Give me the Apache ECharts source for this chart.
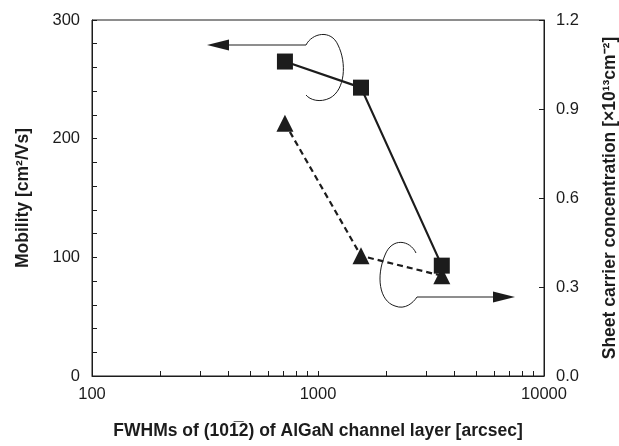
<!DOCTYPE html>
<html>
<head>
<meta charset="utf-8">
<script src="https://cdn.jsdelivr.net/npm/echarts@6/dist/echarts.min.js"></script>
<style>
html,body{margin:0;padding:0;background:#fff;}
#c{width:619px;height:446px;}
</style>
</head>
<body>
<div id="c"></div>
<script>
// Data
var fwhm = [714, 1550, 3530];
var mobility = [265, 243, 93];
var sheetConc = [0.852, 0.405, 0.338];
var xTickValues = [100,200,300,400,500,600,700,800,900,1000,2000,3000,4000,5000,6000,7000,8000,9000,10000];
var xLabelValues = [100, 1000, 10000];

var ink = '#1c1c1c';
var font = 'Liberation Sans, Arial, Helvetica, sans-serif';
var tickFs = 16.5, titleFs = 17.5;

var chart = echarts.init(document.getElementById('c'), null, {renderer: 'canvas'});

function pairs(xs, ys) { return xs.map(function (x, i) { return [x, ys[i]]; }); }
function bez(a, c1, c2, b) {
  return {type: 'bezierCurve', shape: {x1: a[0], y1: a[1], cpx1: c1[0], cpy1: c1[1], cpx2: c2[0], cpy2: c2[1], x2: b[0], y2: b[1]},
    style: {stroke: ink, lineWidth: 1, fill: null}};
}

var option = {
  backgroundColor: '#fff',
  animation: false,
  textStyle: {fontFamily: font},
  grid: {left: 92, right: 75, top: 20, bottom: 70, show: true, borderColor: ink, borderWidth: 1,
    backgroundColor: 'transparent', containLabel: false, outerBoundsMode: 'none'},
  xAxis: {
    type: 'log', logBase: 10, min: 100, max: 10000,
    name: 'FWHMs of (101\u03052) of AlGaN channel layer [arcsec]',
    nameLocation: 'middle', nameGap: 46,
    nameTextStyle: {fontSize: titleFs, fontWeight: 'bold', color: ink, fontFamily: font},
    axisLine: {lineStyle: {color: ink, width: 1}},
    axisTick: {inside: true, length: 5, lineStyle: {color: ink}, customValues: xTickValues},
    axisLabel: {fontSize: tickFs, color: ink, margin: 10, customValues: xLabelValues, fontFamily: font,
      formatter: function (v) { return String(Math.round(v)); }},
    splitLine: {show: false}, minorTick: {show: false}
  },
  yAxis: [{
    type: 'value', min: 0, max: 300, interval: 100, position: 'left',
    name: 'Mobility [cm\u00B2/Vs]', nameLocation: 'middle', nameGap: 60, nameRotate: 90,
    nameTextStyle: {fontSize: titleFs, fontWeight: 'bold', color: ink, fontFamily: font},
    axisLine: {show: true, lineStyle: {color: ink, width: 1}},
    axisTick: {show: true, inside: true, length: 5, lineStyle: {color: ink}},
    minorTick: {show: true, splitNumber: 5, length: 5, lineStyle: {color: ink}},
    axisLabel: {fontSize: tickFs, color: ink, margin: 12, fontFamily: font},
    splitLine: {show: false}
  }, {
    type: 'value', min: 0, max: 1.2, interval: 0.3, position: 'right',
    name: 'Sheet carrier concentration [\u00D710\u00B9\u00B3cm\u207B\u00B2]', nameLocation: 'middle', nameGap: 57, nameRotate: 90,
    nameTextStyle: {fontSize: titleFs, fontWeight: 'bold', color: ink, fontFamily: font},
    axisLine: {show: true, lineStyle: {color: ink, width: 1}},
    axisTick: {show: true, inside: true, length: 5, lineStyle: {color: ink}},
    axisLabel: {fontSize: tickFs, color: ink, margin: 12, fontFamily: font, formatter: function (v) { return v.toFixed(1); }},
    splitLine: {show: false}
  }],
  series: [{
    name: 'Sheet carrier concentration', type: 'line', yAxisIndex: 1,
    data: pairs(fwhm, sheetConc),
    symbol: 'triangle', symbolSize: 17,
    itemStyle: {color: ink},
    lineStyle: {color: ink, width: 2.2, type: [6, 4]},
    z: 2
  }, {
    name: 'Mobility', type: 'line', yAxisIndex: 0,
    data: pairs(fwhm, mobility),
    symbol: 'rect', symbolSize: 16,
    itemStyle: {color: ink},
    lineStyle: {color: ink, width: 2.2, type: 'solid'},
    z: 3
  }],
  graphic: [
    {type: 'line', shape: {x1: 306, y1: 45, x2: 226, y2: 45}, style: {stroke: ink, lineWidth: 1}},
    {type: 'polygon', shape: {points: [[207, 45], [229, 39.5], [229, 50.5]]}, style: {fill: ink}},
    bez([306, 45], [312, 33], [331, 29], [338, 45]),
    bez([338, 45], [347, 63], [345, 90], [330, 98]),
    bez([330, 98], [320, 103], [310, 100], [306, 95]),
    {type: 'line', shape: {x1: 417, y1: 297, x2: 496, y2: 297}, style: {stroke: ink, lineWidth: 1}},
    {type: 'polygon', shape: {points: [[515, 297], [493, 291.5], [493, 302.5]]}, style: {fill: ink}},
    bez([416, 253], [410, 240], [392, 237], [385, 255]),
    bez([385, 255], [376, 276], [379, 301], [395, 306]),
    bez([395, 306], [405, 310], [413, 303], [417, 297])
  ]
};
chart.setOption(option);
</script>
</body>
</html>
